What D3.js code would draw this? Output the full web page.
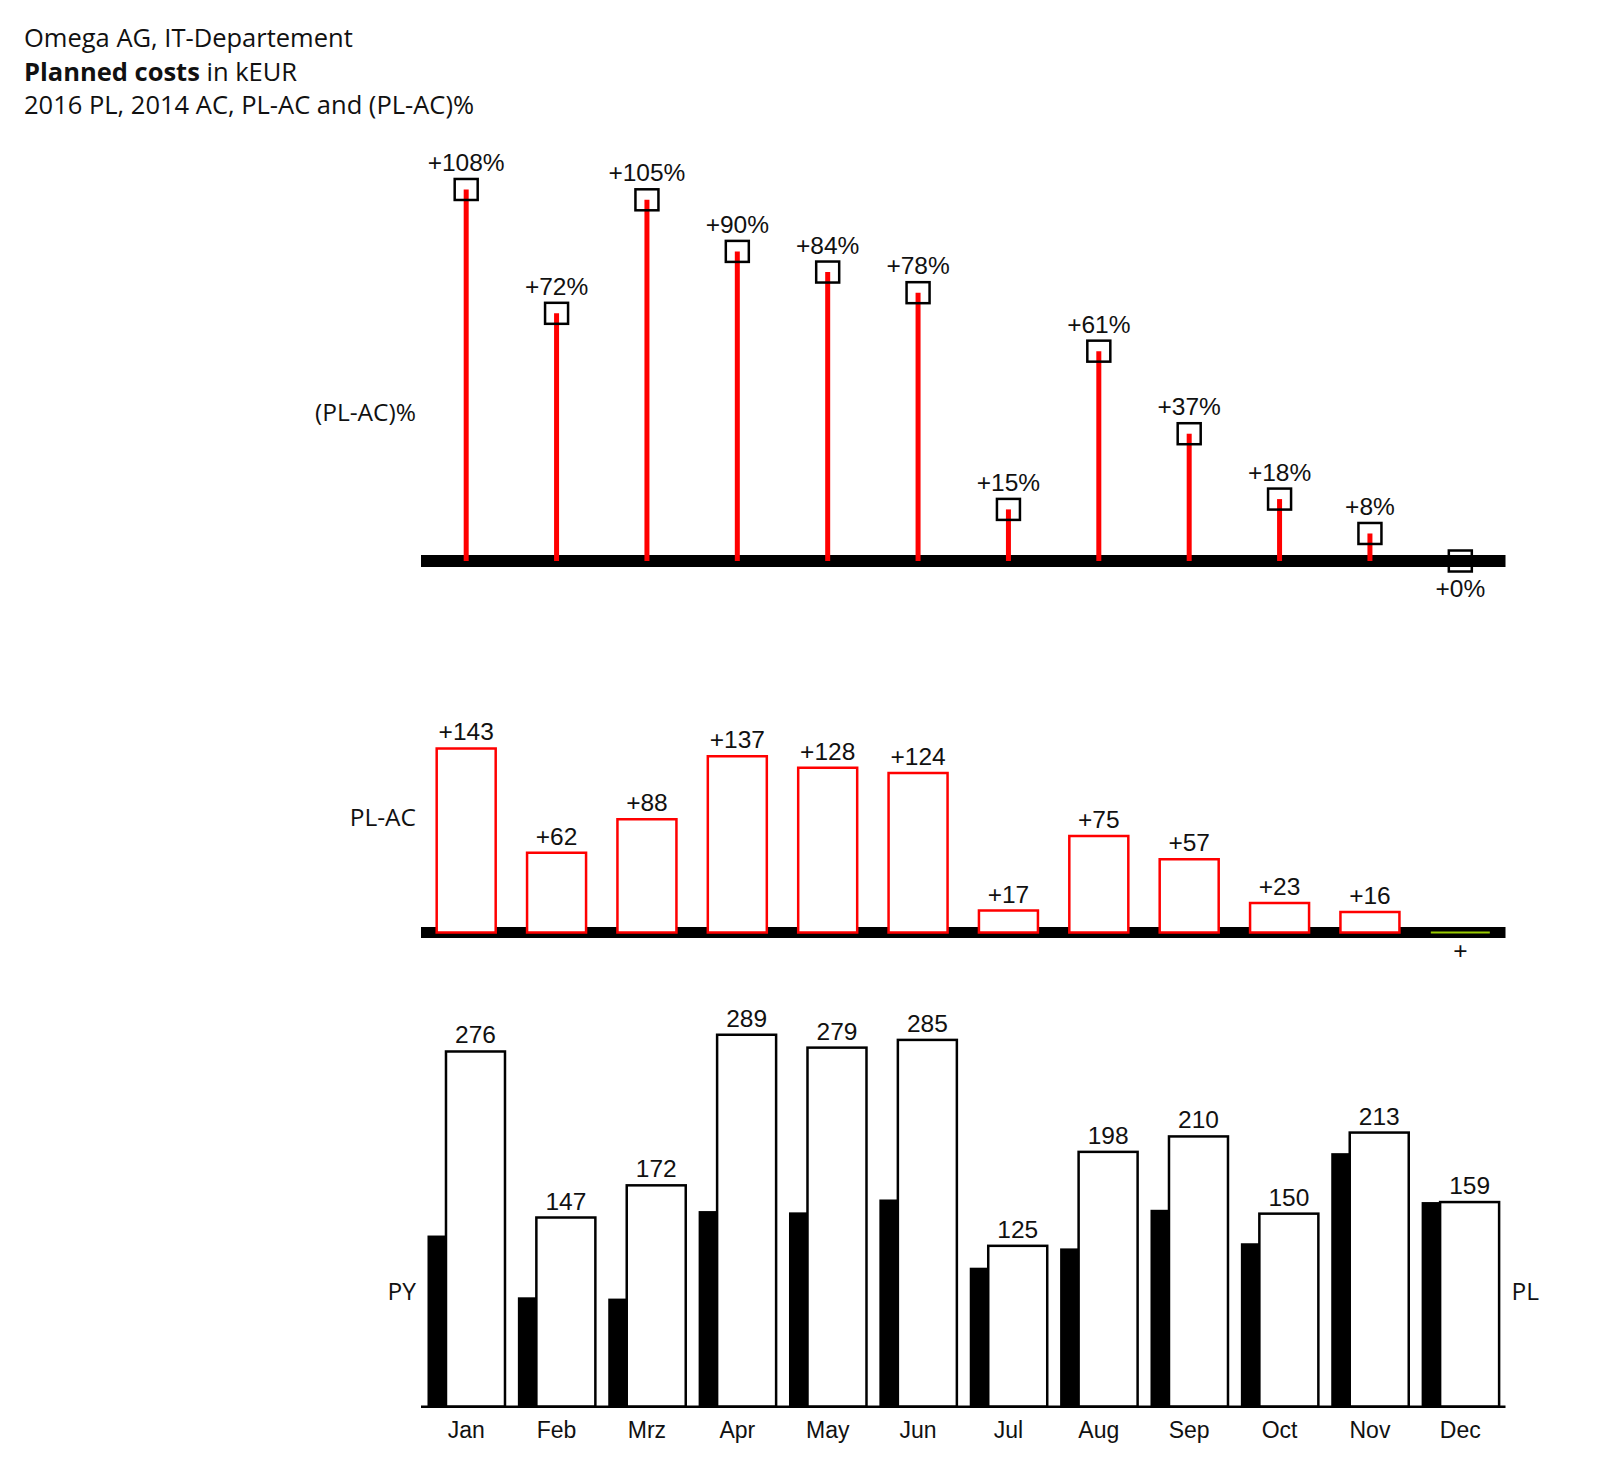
<!DOCTYPE html>
<html>
<head>
<meta charset="utf-8">
<script src="https://cdn.jsdelivr.net/npm/d3@7"></script>
<style>
  body { margin: 0; background: #fff; }
  svg { display: block; }
</style>
</head>
<body>
<div id="chart"></div>
<script>
// Data
const months = ["Jan", "Feb", "Mrz", "Apr", "May", "Jun", "Jul", "Aug", "Sep", "Oct", "Nov", "Dec"];
const plValues = [276, 147, 172, 289, 279, 285, 125, 198, 210, 150, 213, 159];
const acValues = [133, 85, 84, 152, 151, 161, 108, 123, 153, 127, 197, 159];
const deltaValues = [143, 62, 88, 137, 128, 124, 17, 75, 57, 23, 16, 0];
const deltaPctValues = [108, 72, 105, 90, 84, 78, 15, 61, 37, 18, 8, 0];
const titleLines = ["Omega AG, IT-Departement", "Planned costs", " in kEUR", "2016 PL, 2014 AC, PL-AC and (PL-AC)%"];

const width = 1600, height = 1466;
const labelFont = "'Liberation Sans', Arial, sans-serif";
const textFont = "'Open Sans', sans-serif";
const posColor = "#ff0000";
const zeroColor = "#99cc00";

const svg = d3.select("#chart").append("svg")
    .attr("width", width)
    .attr("height", height);

// Shared x scale (12 month bands)
const x = d3.scaleBand()
    .domain(months)
    .range([421, 1505.5])
    .padding(0);
const cx = m => x(m) + x.bandwidth() / 2;

const rows = months.map((m, i) => ({
    month: m,
    pl: plValues[i],
    ac: acValues[i],
    delta: deltaValues[i],
    pct: deltaPctValues[i]
}));

// Title
const title = svg.append("g").style("font-family", textFont).style("font-size", "25.5px").attr("fill", "#111");
title.append("text").attr("x", 24).attr("y", 47).text(titleLines[0]);
const t2 = title.append("text").attr("x", 24).attr("y", 81);
t2.append("tspan").style("font-weight", "bold").text(titleLines[1]);
t2.append("tspan").text(titleLines[2]);
title.append("text").attr("x", 24).attr("y", 114).text(titleLines[3]);

// ---------- (PL-AC)% pin chart ----------
const yPct = d3.scaleLinear().domain([0, 100]).range([561, 217]);
const pctChart = svg.append("g");

pctChart.append("line")
    .attr("x1", x.range()[0]).attr("x2", x.range()[1])
    .attr("y1", yPct(0)).attr("y2", yPct(0))
    .attr("stroke", "#000").attr("stroke-width", 12);

pctChart.selectAll(".stem")
    .data(rows.filter(d => d.pct > 0))
    .enter().append("line")
    .attr("class", "stem")
    .attr("x1", d => cx(d.month)).attr("x2", d => cx(d.month))
    .attr("y1", yPct(0)).attr("y2", d => yPct(d.pct))
    .attr("stroke", posColor).attr("stroke-width", 5);

pctChart.selectAll(".pin")
    .data(rows)
    .enter().append("rect")
    .attr("class", "pin")
    .attr("x", d => cx(d.month) - 11.5)
    .attr("y", d => yPct(d.pct) - 10.5)
    .attr("width", 23).attr("height", 21)
    .attr("fill", "none").attr("stroke", "#000").attr("stroke-width", 2.5);

pctChart.selectAll(".pct-label")
    .data(rows)
    .enter().append("text")
    .attr("class", "pct-label")
    .attr("x", d => cx(d.month))
    .attr("y", d => d.pct > 0 ? yPct(d.pct) - 18.5 : yPct(d.pct) + 36)
    .attr("text-anchor", "middle")
    .style("font-family", labelFont).style("font-size", "24.5px")
    .attr("fill", "#111")
    .text(d => `+${d.pct}%`);

// ---------- PL-AC bar chart ----------
const yDelta = d3.scaleLinear().domain([0, 100]).range([932.5, 803.8]);
const deltaChart = svg.append("g");
const barW = 59;

deltaChart.append("line")
    .attr("x1", x.range()[0]).attr("x2", x.range()[1])
    .attr("y1", yDelta(0)).attr("y2", yDelta(0))
    .attr("stroke", "#000").attr("stroke-width", 11);

deltaChart.selectAll(".delta-bar")
    .data(rows)
    .enter().append("path")
    .attr("class", "delta-bar")
    .attr("d", d => {
        const x0 = cx(d.month) - barW / 2, x1 = x0 + barW;
        const y0 = yDelta(0), y1 = yDelta(d.delta);
        return `M${x0},${y0}V${y1}H${x1}V${y0}Z`;
    })
    .attr("fill", "#fff")
    .attr("stroke", d => d.delta > 0 ? posColor : zeroColor)
    .attr("stroke-width", d => d.delta > 0 ? 2.5 : 2);

deltaChart.selectAll(".delta-label")
    .data(rows)
    .enter().append("text")
    .attr("class", "delta-label")
    .attr("x", d => cx(d.month))
    .attr("y", d => d.delta > 0 ? yDelta(d.delta) - 8 : yDelta(0) + 26)
    .attr("text-anchor", "middle")
    .style("font-family", labelFont).style("font-size", "24.5px")
    .attr("fill", "#111")
    .text(d => d.delta > 0 ? `+${d.delta}` : "+");

// ---------- PL / AC bar chart ----------
const yVal = d3.scaleLinear().domain([0, 100]).range([1406.7, 1278]);
const valChart = svg.append("g");
const acShift = -9.2, plShift = 9.3;

valChart.selectAll(".ac-bar")
    .data(rows)
    .enter().append("rect")
    .attr("class", "ac-bar")
    .attr("x", d => cx(d.month) + acShift - barW / 2)
    .attr("y", d => yVal(d.ac))
    .attr("width", barW)
    .attr("height", d => yVal(0) - yVal(d.ac))
    .attr("fill", "#000");

valChart.selectAll(".pl-bar")
    .data(rows)
    .enter().append("rect")
    .attr("class", "pl-bar")
    .attr("x", d => cx(d.month) + plShift - barW / 2)
    .attr("y", d => yVal(d.pl))
    .attr("width", barW)
    .attr("height", d => yVal(0) - yVal(d.pl))
    .attr("fill", "#fff").attr("stroke", "#000").attr("stroke-width", 2.5);

valChart.append("line")
    .attr("x1", x.range()[0]).attr("x2", x.range()[1])
    .attr("y1", yVal(0)).attr("y2", yVal(0))
    .attr("stroke", "#000").attr("stroke-width", 2.5);

valChart.selectAll(".pl-label")
    .data(rows)
    .enter().append("text")
    .attr("class", "pl-label")
    .attr("x", d => cx(d.month) + plShift)
    .attr("y", d => yVal(d.pl) - 8)
    .attr("text-anchor", "middle")
    .style("font-family", labelFont).style("font-size", "24.5px")
    .attr("fill", "#111")
    .text(d => d.pl);

// Month axis
const xAxis = valChart.append("g")
    .attr("transform", `translate(0,${yVal(0)})`)
    .call(d3.axisBottom(x).tickSize(0).tickPadding(15));
xAxis.select(".domain").remove();
xAxis.selectAll("text")
    .style("font-family", labelFont).style("font-size", "23px")
    .attr("fill", "#111");

// Side labels
const side = svg.append("g").style("font-family", textFont).style("font-size", "24.5px").attr("fill", "#111");
side.append("text").attr("x", 416).attr("y", 420.5).attr("text-anchor", "end").text("(PL-AC)%");
side.append("text").attr("x", 416).attr("y", 825.5).attr("text-anchor", "end").text("PL-AC");
side.append("text").attr("x", 416).attr("y", 1299.5).attr("text-anchor", "end").text("PY");
side.append("text").attr("x", 1511.5).attr("y", 1299.5).text("PL");
</script>
</body>
</html>
